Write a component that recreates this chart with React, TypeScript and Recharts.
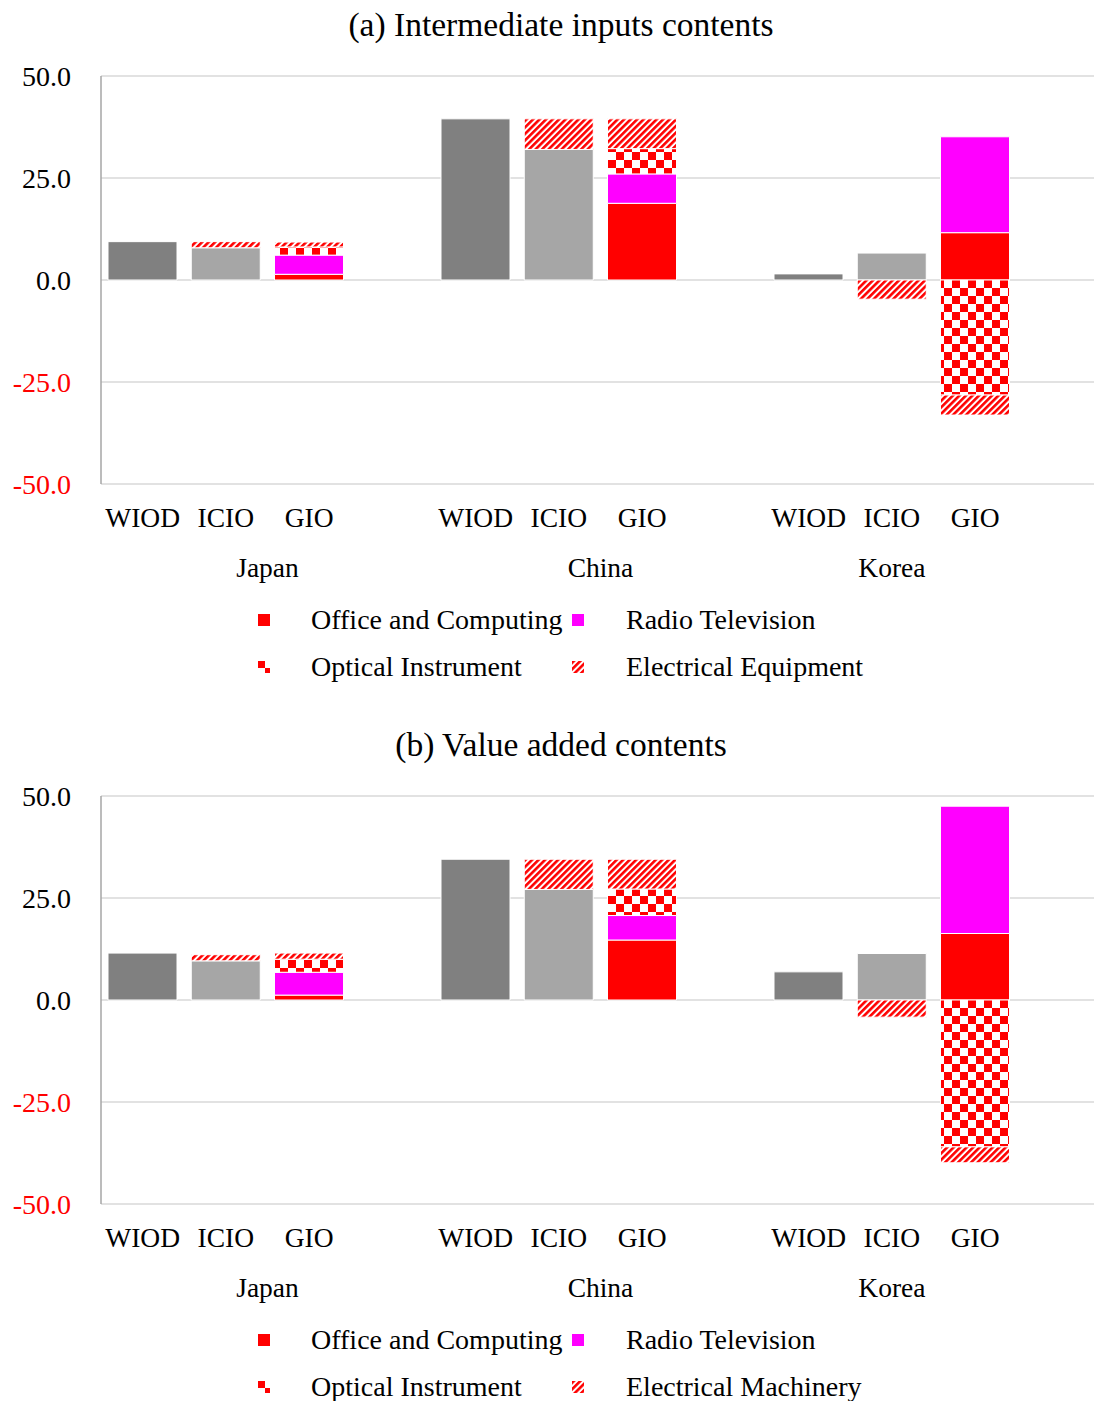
import React from 'react'
import { BarChart, Bar, XAxis, YAxis, CartesianGrid, Cell } from 'recharts'

const FONT = '"Liberation Serif", "Times New Roman", serif'

const categories = ['WIOD', 'ICIO', 'GIO', '', 'WIOD', 'ICIO', 'GIO', '', 'WIOD', 'ICIO', 'GIO', '']
const groups = [
  { label: 'Japan', from: 0, span: 4 },
  { label: 'China', from: 4, span: 4 },
  { label: 'Korea', from: 8, span: 3 },
]
const yTicks = [-50, -25, 0, 25, 50]

// (a) Intermediate inputs contents
const aBase = [9.4, 7.9, 0, 0, 39.5, 32.0, 0, 0, 1.5, 6.6, 0, 0]
const aOffice = [0, 0, 1.4, 0, 0, 0, 18.8, 0, 0, 0, 11.6, 0]
const aRadio = [0, 0, 4.7, 0, 0, 0, 7.2, 0, 0, 0, 23.5, 0]
const aOptical = [0, 0, 2.0, 0, 0, 0, 6.2, 0, 0, 0, -28.2, 0]
const aElectrical = [0, 1.5, 1.2, 0, 0, 7.5, 7.3, 0, 0, -4.7, -4.9, 0]

// (b) Value added contents
const bBase = [11.5, 9.6, 0, 0, 34.5, 27.1, 0, 0, 6.9, 11.4, 0, 0]
const bOffice = [0, 0, 1.2, 0, 0, 0, 14.7, 0, 0, 0, 16.3, 0]
const bRadio = [0, 0, 5.6, 0, 0, 0, 6.0, 0, 0, 0, 31.2, 0]
const bOptical = [0, 0, 3.2, 0, 0, 0, 6.5, 0, 0, 0, -36.0, 0]
const bElectrical = [0, 1.5, 1.5, 0, 0, 7.4, 7.3, 0, 0, -4.2, -3.9, 0]

const CHART_W = 1100
const CHART_H = 590
const Y_W = 101
const BAND = (CHART_W - Y_W) / categories.length

const baseColor = (name: string) => (name === 'WIOD' ? '#808080' : '#a6a6a6')

const nz = (v: number) => (v === 0 ? null : v)

function buildRows(base: number[], office: number[], radio: number[], optical: number[], electrical: number[]) {
  return categories.map((name, i) => ({
    name,
    base: nz(base[i]),
    office: nz(office[i]),
    radio: nz(radio[i]),
    optical: nz(optical[i]),
    electrical: nz(electrical[i]),
  }))
}

const YTick = ({ x, y, payload }: any) => (
  <text x={x} y={y} dy="0.35em" textAnchor="end" fontFamily={FONT} fontSize={28}
    fill={payload.value < 0 ? '#ff0000' : '#000'}>
    {payload.value.toFixed(1)}
  </text>
)

const XTick = ({ x, y, payload, index }: any) => {
  const g = groups.find((gr) => gr.from === index)
  return (
    <g>
      <text x={x} y={y + 33} dy="0.35em" textAnchor="middle" fontFamily={FONT} fontSize={27.5} fill="#000">
        {payload.value}
      </text>
      {g && (
        <text x={x + ((g.span - 1) / 2) * BAND} y={y + 83} dy="0.35em" textAnchor="middle"
          fontFamily={FONT} fontSize={27.5} fill="#000">
          {g.label}
        </text>
      )}
    </g>
  )
}

const Patterns = ({ id }: { id: string }) => (
  <defs>
    <pattern id={`${id}-check`} width="16" height="16" patternUnits="userSpaceOnUse">
      <rect width="16" height="16" fill="#fff" />
      <rect width="8" height="8" fill="#ff0000" />
      <rect x="8" y="8" width="8" height="8" fill="#ff0000" />
    </pattern>
    <pattern id={`${id}-diag`} width="4.6" height="4.6" patternUnits="userSpaceOnUse" patternTransform="rotate(45)">
      <rect width="4.6" height="4.6" fill="#fff" />
      <rect width="2.6" height="4.6" fill="#ff0000" />
    </pattern>
  </defs>
)

const LegendMark = ({ kind, id }: { kind: string; id: string }) => (
  <svg width={12} height={12} style={{ display: 'block' }}>
    <defs>
      <pattern id={`${id}-lcheck`} width="12" height="12" patternUnits="userSpaceOnUse">
        <rect width="12" height="12" fill="#fff" />
        <rect width="7" height="7" fill="#ff0000" />
        <rect x="7" y="7" width="5" height="5" fill="#ff0000" />
      </pattern>
      <pattern id={`${id}-ldiag`} width="4.6" height="4.6" patternUnits="userSpaceOnUse" patternTransform="rotate(45)">
        <rect width="4.6" height="4.6" fill="#fff" />
        <rect width="2.6" height="4.6" fill="#ff0000" />
      </pattern>
    </defs>
    <rect width={12} height={12}
      fill={kind === 'office' ? '#ff0000' : kind === 'radio' ? '#ff00ff' : kind === 'optical' ? `url(#${id}-lcheck)` : `url(#${id}-ldiag)`} />
  </svg>
)

function Panel({ id, top, title, rows, elecLabel }: any) {
  const legend = [
    { kind: 'office', label: 'Office and Computing', mx: 258, tx: 311, row: 0 },
    { kind: 'radio', label: 'Radio Television', mx: 572, tx: 626, row: 0 },
    { kind: 'optical', label: 'Optical Instrument', mx: 258, tx: 311, row: 1 },
    { kind: 'electrical', label: elecLabel, mx: 572, tx: 626, row: 1 },
  ]
  return (
    <div style={{ position: 'absolute', left: 0, top, width: CHART_W, height: 720 }}>
      <div style={{ position: 'absolute', left: 0, top: 5, width: 1122, textAlign: 'center', fontFamily: FONT, fontSize: 33.5, lineHeight: '40px' }}>
        {title}
      </div>
      <BarChart width={CHART_W} height={CHART_H} data={rows} stackOffset="sign" barSize={69}
        margin={{ top: 76, right: 0, bottom: 0, left: 0 }}>
        <Patterns id={id} />
        <CartesianGrid vertical={false} stroke="#d9d9d9" strokeWidth={1.5} />
        <XAxis dataKey="name" interval={0} axisLine={false} tickLine={false} tickSize={0} tickMargin={0}
          height={106} tick={<XTick />} />
        <YAxis type="number" domain={[-50, 50]} ticks={yTicks} width={Y_W} tickLine={false} tickSize={0}
          tickMargin={30} axisLine={{ stroke: '#a6a6a6', strokeWidth: 1.5 }} tick={<YTick />} />
        <Bar dataKey="base" stackId="s" stroke="#fff" strokeWidth={1} isAnimationActive={false}>
          {rows.map((r: any, i: number) => (
            <Cell key={i} fill={baseColor(r.name)} />
          ))}
        </Bar>
        <Bar dataKey="office" stackId="s" fill="#ff0000" stroke="#fff" strokeWidth={1} isAnimationActive={false} />
        <Bar dataKey="radio" stackId="s" fill="#ff00ff" stroke="#fff" strokeWidth={1} isAnimationActive={false} />
        <Bar dataKey="optical" stackId="s" fill={`url(#${id}-check)`} stroke="#fff" strokeWidth={1} isAnimationActive={false} />
        <Bar dataKey="electrical" stackId="s" fill={`url(#${id}-diag)`} stroke="#fff" strokeWidth={1} isAnimationActive={false} />
      </BarChart>
      {legend.map((l) => (
        <React.Fragment key={l.kind}>
          <div style={{ position: 'absolute', left: l.mx, top: 614 + l.row * 47 }}>
            <LegendMark kind={l.kind} id={id} />
          </div>
          <div style={{ position: 'absolute', left: l.tx, top: 603 + l.row * 47, fontFamily: FONT, fontSize: 28, lineHeight: '33px', whiteSpace: 'nowrap' }}>
            {l.label}
          </div>
        </React.Fragment>
      ))}
    </div>
  )
}

export default function App() {
  const rowsA = buildRows(aBase, aOffice, aRadio, aOptical, aElectrical)
  const rowsB = buildRows(bBase, bOffice, bRadio, bOptical, bElectrical)
  return (
    <div style={{ position: 'absolute', left: 0, top: 0, width: 1094, height: 1401, overflow: 'hidden', background: '#fff' }}>
      <Panel id="pa" top={0} title="(a) Intermediate inputs contents" rows={rowsA} elecLabel="Electrical Equipment" />
      <Panel id="pb" top={720} title="(b) Value added contents" rows={rowsB} elecLabel="Electrical Machinery" />
    </div>
  )
}
